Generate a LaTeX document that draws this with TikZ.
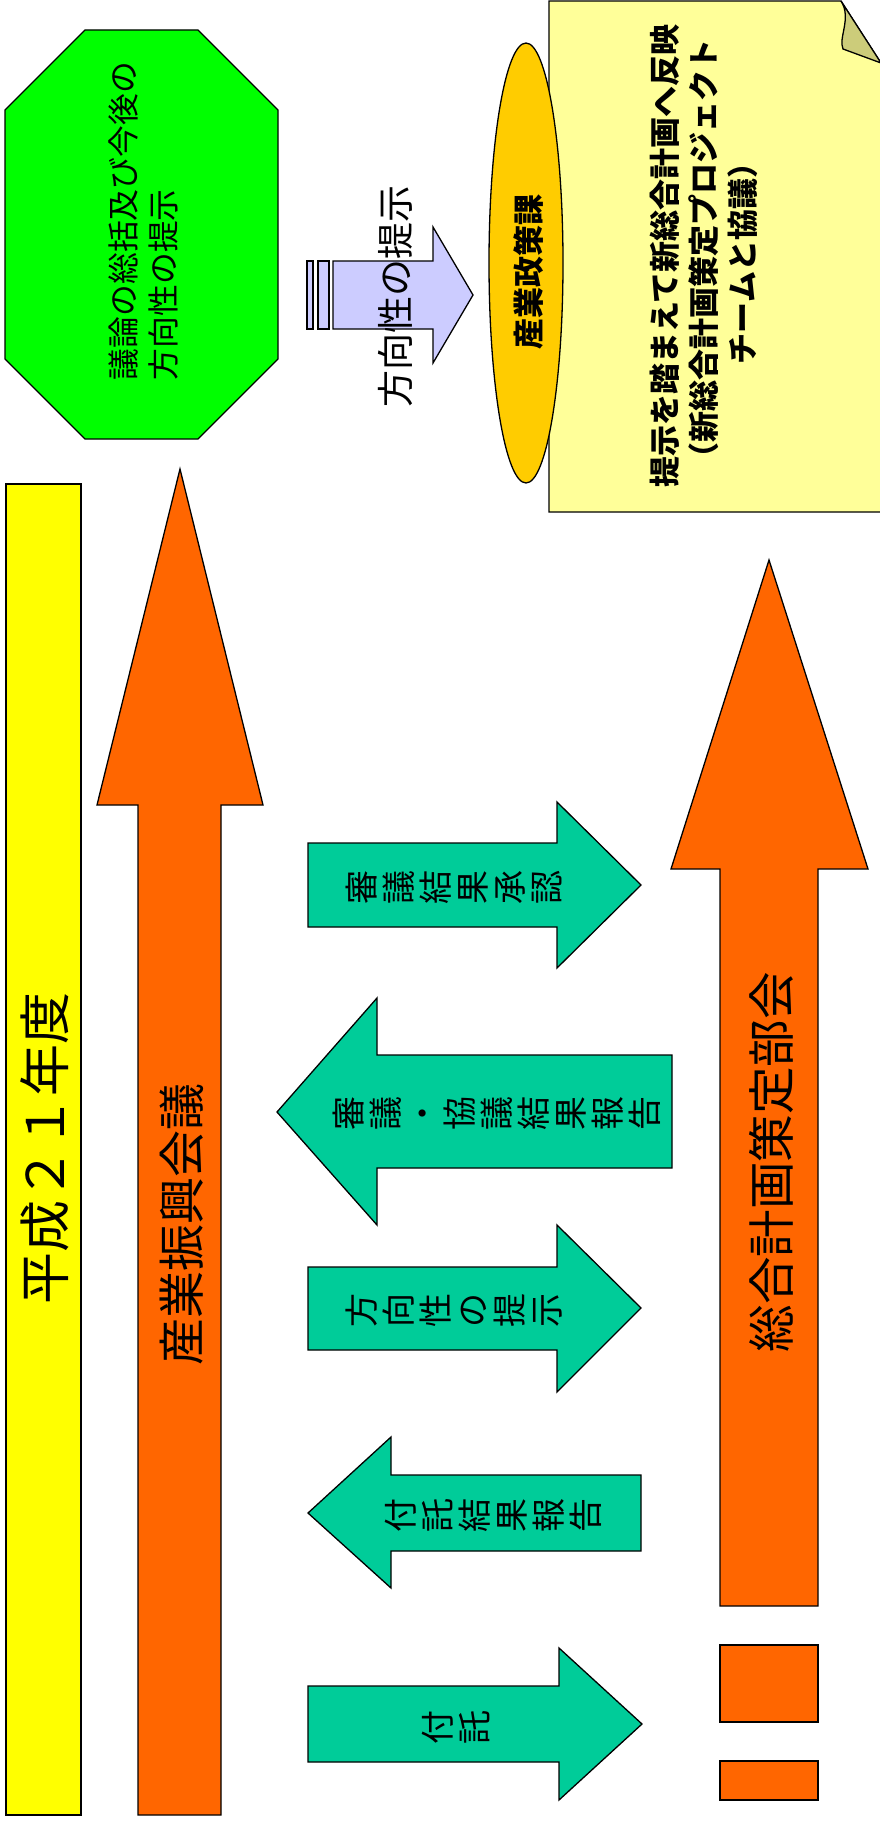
\documentclass[tikz,border=0pt]{standalone}
\usepackage{fontspec}
\setmainfont{Noto Sans CJK JP}
\usetikzlibrary{shapes.geometric}
\definecolor{cNote}{HTML}{FFFF99}
\definecolor{cFlap}{HTML}{CCCC7A}
\definecolor{cEll}{HTML}{FFCC00}
\definecolor{cOct}{HTML}{00FF00}
\definecolor{cBlue}{HTML}{CCCCFF}
\definecolor{cYel}{HTML}{FFFF00}
\definecolor{cOra}{HTML}{FF6600}
\definecolor{cTeal}{HTML}{00CC99}
\tikzset{
  shp/.style={draw=black, line width=1.3pt, line join=miter},
  lbl/.style={rotate=90, inner sep=0pt, align=center},
  stack/.style={rotate=90, inner sep=0pt, align=center, font=\fontsize{34}{37}\selectfont},
}
\begin{document}
\begin{tikzpicture}[x=1pt,y=-1pt]
\useasboundingbox (0,0) rectangle (880,1825);
% note
\draw[shp, fill=cNote] (549,1) -- (841,1) -- (881,63) -- (881,512) -- (549,512) -- cycle;
\draw[shp, fill=cFlap] (841,1) .. controls (852,18) and (838,38) .. (843,49) -- (881,63) -- cycle;
\node[lbl, font=\fontsize{31}{39}\selectfont\bfseries] (note) at (704,256)
  {提示を踏まえて新総合計画へ反映\\（新総合計画策定プロジェクト\\チームと協議）};
% ellipse
\draw[shp, fill=cEll] (526,263) ellipse [x radius=37, y radius=220];
\node[lbl, font=\fontsize{31}{36}\selectfont\bfseries] (seisaku) at (529,272) {産業政策課};
% octagon
\draw[shp, fill=cOct] (85,30) -- (198,30) -- (278,110) -- (278,359) -- (198,439) -- (85,439) -- (5,359) -- (5,110) -- cycle;
\node[rotate=90, inner sep=0pt, align=left, font=\fontsize{31.8}{40}\selectfont] (soukatsu) at (143,221)
  {議論の総括及び今後の\\方向性の提示};
% light blue arrow
\draw[shp, fill=cBlue] (307,261) rectangle (313,329);
\draw[shp, fill=cBlue] (318,261) rectangle (329,329);
\draw[shp, fill=cBlue] (333,261) -- (433,261) -- (433,227) -- (473,295) -- (433,363) -- (433,329) -- (333,329) -- cycle;
\node[lbl, font=\fontsize{37}{40}\selectfont] (teiji) at (395,296) {方向性の提示};
% yellow bar
\draw[shp, fill=cYel] (6,484) rectangle (81,1815);
\node[lbl, font=\fontsize{52}{56}\selectfont] (nendo) at (45,1148) {平成２１年度};
% left orange arrow
\draw[shp, fill=cOra] (138,1815) -- (138,805) -- (97,805) -- (180,469) -- (263,805) -- (221,805) -- (221,1815) -- cycle;
\node[lbl, font=\fontsize{47}{50}\selectfont] (kaigi) at (182,1224) {産業振興会議};
% right orange arrow
\draw[shp, fill=cOra] (720,1606) -- (720,869) -- (671,869) -- (769,560) -- (868,869) -- (818,869) -- (818,1606) -- cycle;
\node[lbl, font=\fontsize{47.5}{50}\selectfont] (bukai) at (771,1162) {総合計画策定部会};
\draw[shp, fill=cOra] (720,1645) rectangle (818,1722);
\draw[shp, fill=cOra] (720,1761) rectangle (818,1800);
% green arrows
\draw[shp, fill=cTeal] (308,843) -- (557,843) -- (557,802) -- (641,885) -- (557,968) -- (557,927) -- (308,927) -- cycle;
\node[stack] (shonin) at (454,887) {審\\議\\結\\果\\承\\認};
\draw[shp, fill=cTeal] (672,1055) -- (377,1055) -- (377,998) -- (277,1112) -- (377,1225) -- (377,1168) -- (672,1168) -- cycle;
\node[stack] (houkoku) at (497,1113) {審\\議\\・\\協\\議\\結\\果\\報\\告};
\draw[shp, fill=cTeal] (308,1267) -- (557,1267) -- (557,1225) -- (641,1308) -- (557,1392) -- (557,1350) -- (308,1350) -- cycle;
\node[stack] (houkou) at (454,1310) {方\\向\\性\\の\\提\\示};
\draw[shp, fill=cTeal] (641,1475) -- (391,1475) -- (391,1437) -- (308,1513) -- (391,1588) -- (391,1551) -- (641,1551) -- cycle;
\node[stack] (futakukekka) at (493,1515) {付\\託\\結\\果\\報\\告};
\draw[shp, fill=cTeal] (308,1686) -- (559,1686) -- (559,1648) -- (642,1724) -- (559,1800) -- (559,1762) -- (308,1762) -- cycle;
\node[stack] (futaku) at (456,1727) {付\\託};
\end{tikzpicture}
\end{document}
